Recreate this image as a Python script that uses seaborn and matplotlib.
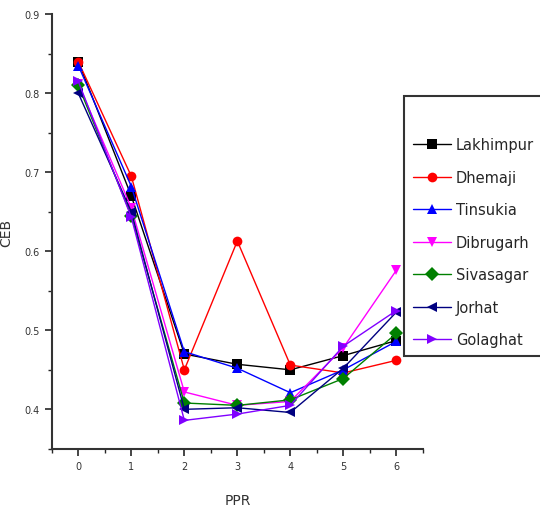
import pandas as pd
import seaborn as sns
import matplotlib.pyplot as plt
from matplotlib.ticker import MultipleLocator

ppr = [0, 1, 2, 3, 4, 5, 6]
districts = ['Lakhimpur', 'Dhemaji', 'Tinsukia', 'Dibrugarh', 'Sivasagar', 'Jorhat', 'Golaghat']
lakhimpur = [0.840, 0.670, 0.470, 0.457, 0.450, 0.468, 0.487]
dhemaji = [0.840, 0.695, 0.450, 0.613, 0.456, 0.446, 0.462]
tinsukia = [0.835, 0.682, 0.473, 0.452, 0.421, 0.450, 0.486]
dibrugarh = [0.812, 0.655, 0.422, 0.405, 0.410, 0.478, 0.576]
sivasagar = [0.810, 0.645, 0.408, 0.405, 0.412, 0.439, 0.496]
jorhat = [0.800, 0.650, 0.400, 0.402, 0.396, 0.452, 0.523]
golaghat = [0.815, 0.643, 0.386, 0.394, 0.405, 0.480, 0.525]

series = [lakhimpur, dhemaji, tinsukia, dibrugarh, sivasagar, jorhat, golaghat]
rows = []
for name, vals in zip(districts, series):
  for x, v in zip(ppr, vals):
    rows.append({'PPR': x, 'CEB': v, 'District': name})
df = pd.DataFrame(rows)

colors = ['black', 'red', 'blue', '#ff00ff', '#008000', '#000080', '#8000ff']
markers = ['s', 'o', '^', 'v', 'D', '<', '>']

sns.set_style('ticks')
fig = plt.figure(figsize=(5.4, 5.1), dpi=100)
ax = fig.add_axes([0.096, 0.118, 0.687, 0.852])

sns.lineplot(data=df, x='PPR', y='CEB', hue='District', style='District',
             hue_order=districts, style_order=districts,
             palette=dict(zip(districts, colors)),
             markers=dict(zip(districts, markers)), dashes=False,
             markersize=7, markeredgewidth=0, linewidth=1, ax=ax)
handles, labels = ax.get_legend_handles_labels()
ax.get_legend().remove()

ax.set_xlim(-0.5, 6.5)
ax.set_ylim(0.35, 0.9)
ax.xaxis.set_major_locator(MultipleLocator(1))
ax.xaxis.set_minor_locator(MultipleLocator(0.5))
ax.yaxis.set_major_locator(MultipleLocator(0.1))
ax.yaxis.set_minor_locator(MultipleLocator(0.05))
ax.tick_params(which='major', length=5, width=1.2, labelsize=7, labelcolor='#333333')
ax.tick_params(which='minor', length=3, width=1)
ax.set_yticks([0.4, 0.5, 0.6, 0.7, 0.8, 0.9])
ax.set_yticklabels(['0.4', '0.5', '0.6', '0.7', '0.8', '0.9'])
for s in ['top', 'right']:
  ax.spines[s].set_visible(False)
for s in ['left', 'bottom']:
  ax.spines[s].set_linewidth(1.5)
  ax.spines[s].set_color('#333333')

ax.set_xlabel('PPR', fontsize=10, color='#333333', labelpad=16)
ax.set_ylabel('CEB', fontsize=10, color='#333333', labelpad=8)

leg = fig.legend(handles, labels, loc='upper left', bbox_to_anchor=(0.748, 0.81),
                 fontsize=10.5, frameon=True, fancybox=False, edgecolor='black',
                 handlelength=2.6, handletextpad=0.35, labelspacing=1.2,
                 borderpad=0.6, title=' ', title_fontsize=11, borderaxespad=0)
leg.get_frame().set_linewidth(1.5)

plt.savefig('out.png', dpi=100)
